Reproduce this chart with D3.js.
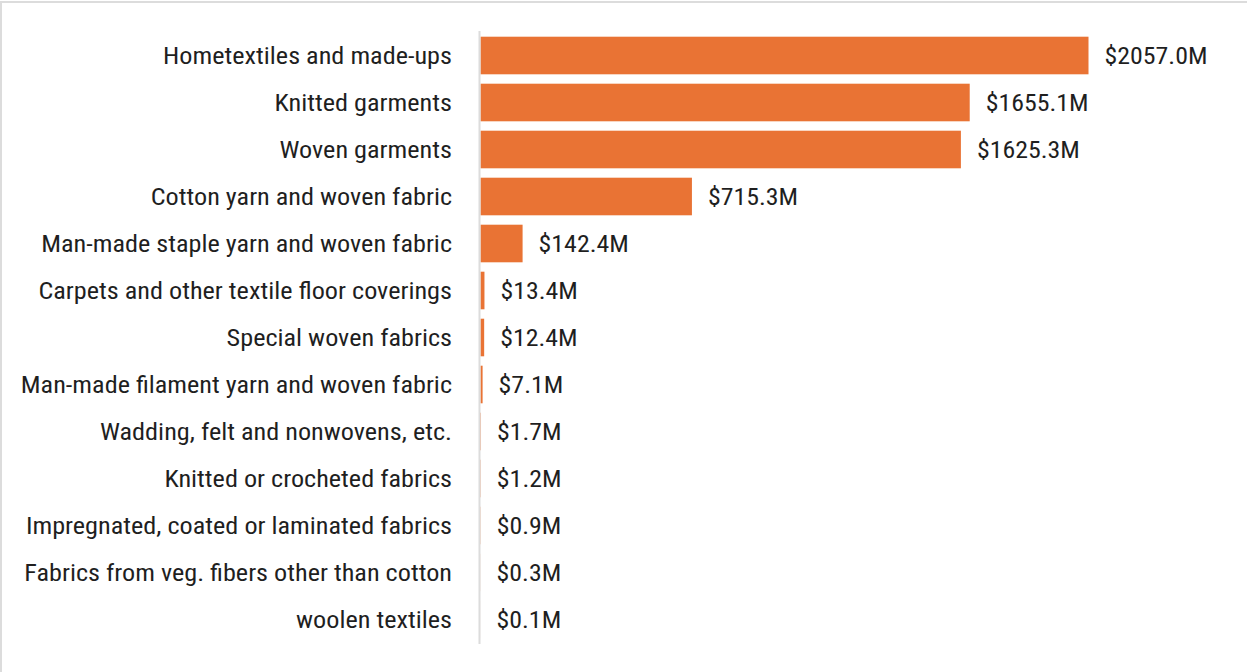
<!DOCTYPE html>
<html>
<head>
<meta charset="utf-8">
<script src="https://cdn.jsdelivr.net/npm/d3@7"></script>
<style>
  html, body { margin: 0; padding: 0; background: #fff; }
  svg { display: block; }
  text { font-family: 'Roboto Condensed', 'Liberation Sans Narrow', 'Roboto', sans-serif; fill: #1f1f1f; }
</style>
</head>
<body>
<svg id="chart" width="1247" height="672"></svg>
<script>
const categories = [
  "Hometextiles and made-ups",
  "Knitted garments",
  "Woven garments",
  "Cotton yarn and woven fabric",
  "Man-made staple yarn and woven fabric",
  "Carpets and other textile floor coverings",
  "Special woven fabrics",
  "Man-made filament yarn and woven fabric",
  "Wadding, felt and nonwovens, etc.",
  "Knitted or crocheted fabrics",
  "Impregnated, coated or laminated fabrics",
  "Fabrics from veg. fibers other than cotton",
  "woolen textiles"
];
const values = [2057.0, 1655.1, 1625.3, 715.3, 142.4, 13.4, 12.4, 7.1, 1.7, 1.2, 0.9, 0.3, 0.1];
const valueLabels = values.map(v => "$" + v.toFixed(1) + "M");

const svg = d3.select("#chart");
const W = 1247, H = 672;

// card border (top & left visible)
svg.append("rect").attr("x", 1).attr("y", 2).attr("width", W + 10).attr("height", H + 10)
  .attr("fill", "#fff").attr("stroke", "#dcdcdc").attr("stroke-width", 2);

const x = d3.scaleLinear().domain([0, 2057]).range([480.5, 1088.5]);
const y = d3.scaleBand().domain(categories).range([32, 643]).paddingInner(0.2).paddingOuter(0.1);

const fontSize = 24;

// bars
svg.append("g").selectAll("rect").data(values).join("rect")
  .attr("x", x(0))
  .attr("y", (d, i) => y(categories[i]))
  .attr("width", d => Math.max(0, x(d) - x(0)))
  .attr("height", y.bandwidth())
  .attr("fill", "#E97334");

// axis line
svg.append("line").attr("x1", 479.5).attr("x2", 479.5).attr("y1", 31).attr("y2", 644)
  .attr("stroke", "#dcdcdc").attr("stroke-width", 2);

// category labels
const catG = svg.append("g").selectAll("g").data(categories).join("g")
  .attr("transform", d => `translate(452,${y(d) + y.bandwidth() / 2})`);
const catT = catG.append("text")
  .attr("text-anchor", "end").attr("dy", "0.35em")
  .style("font-size", fontSize + "px")
  .text(d => d);

// value labels
const valG = svg.append("g").selectAll("g").data(values).join("g")
  .attr("transform", (d, i) => `translate(${x(d) + 16},${y(categories[i]) + y.bandwidth() / 2})`);
const valT = valG.append("text")
  .attr("dy", "0.35em")
  .style("font-size", fontSize + "px")
  .text((d, i) => valueLabels[i]);

// fit condensed width to the reference proportions
const refW = catT.nodes()[0].getComputedTextLength();
const k = 289 / refW;
catT.attr("transform", `scale(${k},1)`);
const refV = valT.nodes()[0].getComputedTextLength();
const kv = 103 / refV;
valT.attr("transform", `scale(${kv},1)`);
</script>
</body>
</html>
